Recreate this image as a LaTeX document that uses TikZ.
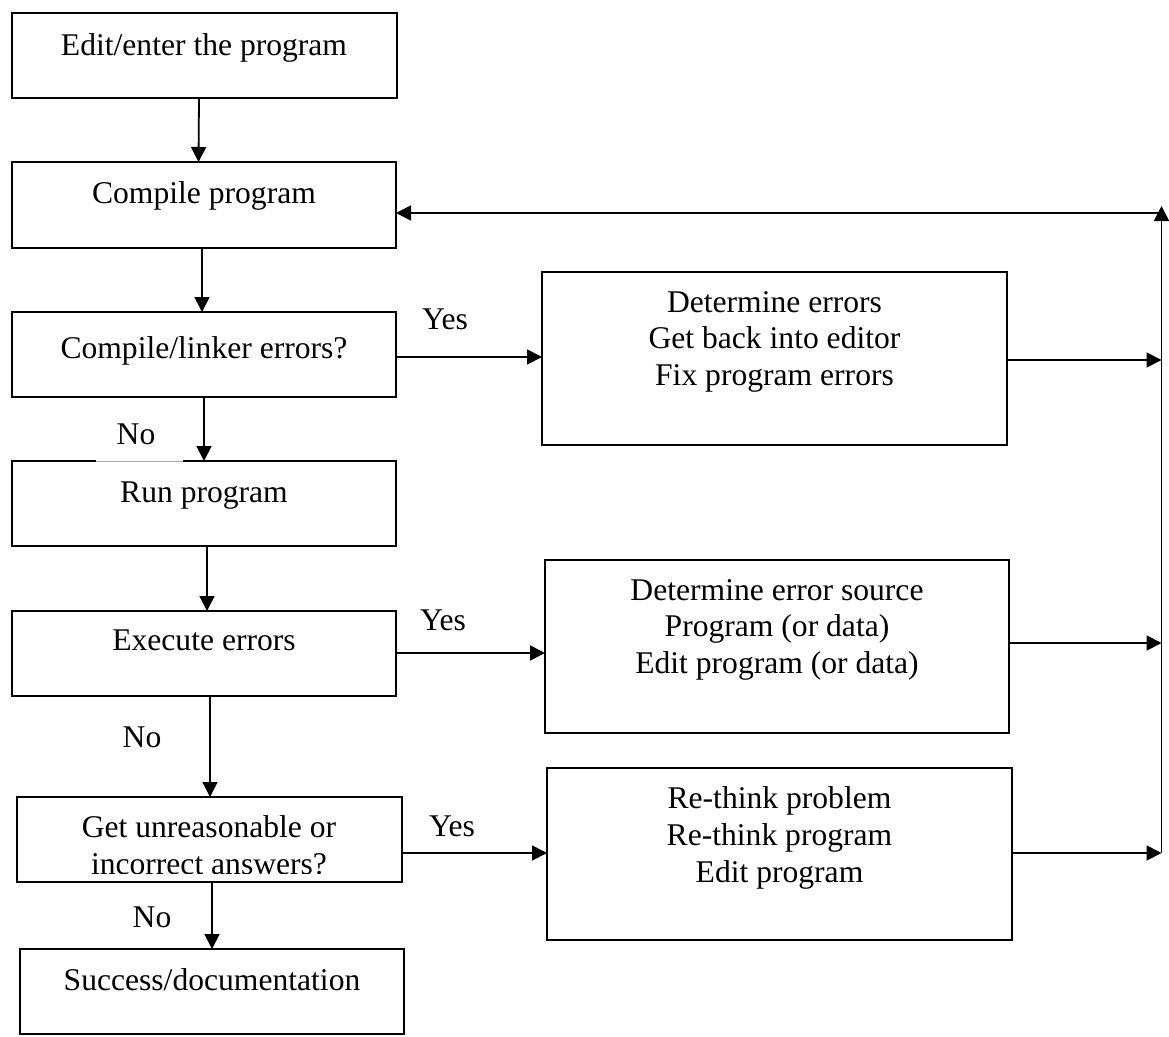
\documentclass[tikz,border=0pt]{standalone}
\usepackage{fontspec}
\setmainfont{Liberation Serif}
\usetikzlibrary{arrows.meta}

\tikzset{
  box/.style={draw, line width=2pt, rectangle, inner sep=0pt, outer sep=0pt},
  txt/.style={anchor=base, inner sep=0pt, font=\fontsize{31.6}{36.5}\selectfont},
  arr/.style={line width=1.8pt, -{Triangle[length=15pt,width=15pt]}}
}

\begin{document}
\begin{tikzpicture}[x=1pt, y=-1pt]
\useasboundingbox (0,0) rectangle (1169,1036);

% main column
\node[box, minimum width=385pt, minimum height=85pt] (b1) at (204.5,55.5) {};
\node[box, minimum width=384pt, minimum height=86pt] (b2) at (204,205) {};
\node[box, minimum width=384pt, minimum height=85pt] (b3) at (204,354.5) {};
\node[box, minimum width=384pt, minimum height=85pt] (b4) at (204,503.5) {};
\node[box, minimum width=384pt, minimum height=85pt] (b5) at (204,653.5) {};
\node[box, minimum width=385pt, minimum height=85pt] (b6) at (209.5,839.5) {};
\node[box, minimum width=384pt, minimum height=85pt] (b7) at (212,991.5) {};

\node[txt] (t1) at (204,55) {Edit/enter the program};
\node[txt] (t2) at (204,203) {Compile program};
\node[txt] (t3) at (204,358) {Compile/linker errors?};
\node[txt] (t4) at (204,502) {Run program};
\node[txt] (t5) at (204,650) {Execute errors};
\node[txt] (t6a) at (209,837) {Get unreasonable or};
\begin{scope}
  \clip (17,800) rectangle (402,873);
  \node[txt] (t6b) at (209,874) {incorrect answers?};
\end{scope}
\node[txt] (t7) at (212,990) {Success/documentation};

% correction boxes
\node[box, minimum width=465pt, minimum height=173pt] (A) at (774.5,358.5) {};
\node[box, minimum width=464pt, minimum height=173pt] (B) at (777,646.5) {};
\node[box, minimum width=465pt, minimum height=172pt] (C) at (779.5,854) {};

\node[txt] (a1) at (774.5,312) {Determine errors};
\node[txt] (a2) at (774.5,348.5) {Get back into editor};
\node[txt] (a3) at (774.5,385) {Fix program errors};
\node[txt] (bb1) at (777,600) {Determine error source};
\node[txt] (bb2) at (777,636.5) {Program (or data)};
\node[txt] (bb3) at (777,673) {Edit program (or data)};
\node[txt] (c1) at (779.5,808) {Re-think problem};
\node[txt] (c2) at (779.5,845) {Re-think program};
\node[txt] (c3) at (779.5,882) {Edit program};

% branch labels
\node[txt] (y1) at (445,329) {Yes};
\node[txt] (y2) at (443,630) {Yes};
\node[txt] (y3) at (452,836) {Yes};
\node[txt] (n1) at (136,444) {No};
\node[txt] (n2) at (142,747) {No};
\node[txt] (n3) at (152,927) {No};

% faded stretch of the Run program box edge under the first "No"
\draw[white, line width=2.4pt] (96,461.5) -- (183,461.5);
\draw[black!35, line width=0.6pt] (96,461.5) -- (183,461.5);

% downward flow
\draw[arr] ([xshift=-5.5pt]b1.south) -- ([xshift=-5.5pt]b2.north);
\draw[arr] ([xshift=-2pt]b2.south) -- ([xshift=-2pt]b3.north);
\draw[arr] ([xshift=0pt]b3.south) -- ([xshift=0pt]b4.north);
\draw[arr] ([xshift=3pt]b4.south) -- ([xshift=3pt]b5.north);
\draw[arr] ([xshift=6pt]b5.south) -- ([xshift=0.5pt]b6.north);
\draw[arr] ([xshift=2.5pt]b6.south) -- ([xshift=0pt]b7.north);

% yes branches
\coordinate (s3) at ([yshift=-2.5pt]b3.east);
\coordinate (s5) at ([yshift=0.5pt]b5.east);
\coordinate (s6) at ([yshift=-13.5pt]b6.east);
\draw[arr] (s3) -- (s3 -| A.west);
\draw[arr] (s5) -- (s5 -| B.west);
\draw[arr] (s6) -- (s6 -| C.west);

% return loop
\coordinate (rtop) at (1161.5,213);
\coordinate (rtip) at (1161.5,206);
\coordinate (rbot) at (1161.5,853);
\coordinate (ea) at ([yshift=-1.5pt]A.east);
\coordinate (eb) at ([yshift=3.5pt]B.east);
\coordinate (ec) at ([yshift=1pt]C.east);
\draw[arr] (ea) -- (ea -| rtop);
\draw[arr] (eb) -- (eb -| rtop);
\draw[arr] (ec) -- (ec -| rtop);
\draw[arr] (rbot) -- (rtip);
\draw[arr] (rtop) -- (rtop -| b2.east);
\end{tikzpicture}
\end{document}
